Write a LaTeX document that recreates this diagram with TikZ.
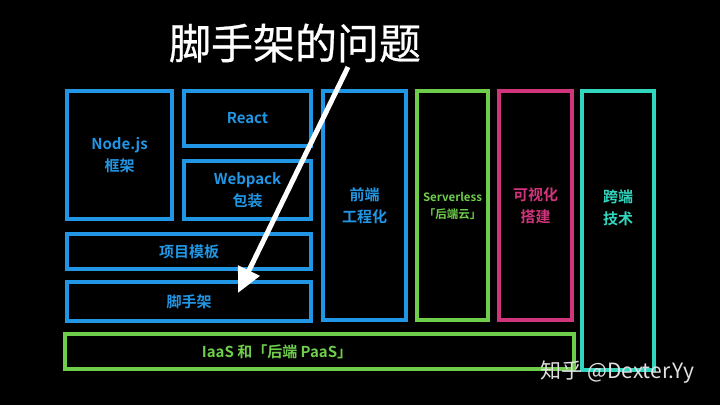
\documentclass[tikz,border=0pt]{standalone}
\usepackage{fontspec}
\setmainfont{Noto Sans CJK SC}[BoldFont={Noto Sans CJK SC Bold}]
\newfontfamily\titlefont{Noto Sans CJK SC}[FakeBold=0.6]
\usetikzlibrary{arrows.meta}
\definecolor{feblue}{RGB}{33,150,228}
\definecolor{begreen}{RGB}{110,205,75}
\definecolor{vispink}{RGB}{208,52,122}
\definecolor{xcyan}{RGB}{48,214,190}
\begin{document}
\begin{tikzpicture}[x=1pt, y=-1pt,
  blk/.style={draw=#1, text=#1, line width=3.5pt, inner sep=0pt, align=center,
    font=\bfseries\fontsize{15}{22}\selectfont},
  small/.style={font=\bfseries\fontsize{11.5}{17}\selectfont}]
  \fill[black] (0,0) rectangle (720,405);

  \node[text=white, font=\titlefont\fontsize{42}{42}\selectfont] (title) at (295,43) {脚手架的问题};

  \node[blk=feblue, minimum width=105pt, minimum height=128pt] (nodejs) at (119.5,155) {Node.js\\框架};
  \node[blk=feblue, minimum width=127pt, minimum height=55pt] (react) at (247.5,118.5) {React};
  \node[blk=feblue, minimum width=127pt, minimum height=58pt] (webpack) at (247.5,190) {Webpack\\包装};
  \node[blk=feblue, minimum width=244pt, minimum height=35pt] (tmpl) at (189,251.5) {项目模板};
  \node[blk=feblue, minimum width=244pt, minimum height=39pt] (scaffold) at (189,301.5) {脚手架};
  \node[blk=feblue, minimum width=83pt, minimum height=229pt] (fe) at (364.5,205.5) {前端\\工程化};
  \node[blk=begreen, small, minimum width=71pt, minimum height=229pt] (sls) at (452.5,205.5) {Serverless\\「后端云」};
  \node[blk=vispink, minimum width=73pt, minimum height=229pt] (vis) at (535.5,205.5) {可视化\\搭建};
  \node[blk=xcyan, minimum width=72pt, minimum height=279pt] (cross) at (618,230.5) {};
  \node[text=xcyan, align=center, font=\bfseries\fontsize{15}{22}\selectfont] (crosslbl) at (618,208) {跨端\\技术};
  \node[blk=begreen, minimum width=509pt, minimum height=35pt] (iaas) at (319.5,351.5) {};
  \node[text=begreen, font=\bfseries\fontsize{15}{15}\selectfont] (iaaslbl) at (277,352) {IaaS 和「后端 PaaS」};

  \node[text=white!88!black, font=\fontsize{21}{21}\selectfont, anchor=west] (mark) at (537,372) {知乎 @Dexter.Yy};

  \coordinate (tail) at (348,67);
  \coordinate (tip) at (238,293);
  \draw[white, line width=5pt, -{Triangle[width=23pt,length=25pt]}] (tail) -- (tip);
\end{tikzpicture}
\end{document}
